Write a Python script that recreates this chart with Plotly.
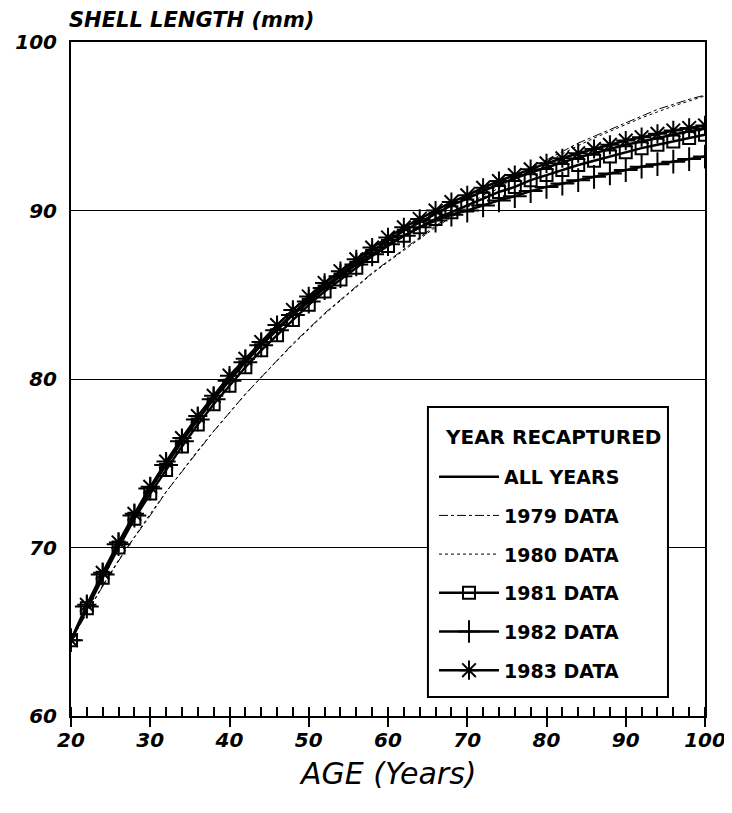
import plotly.graph_objects as go

ages = [20, 22, 24, 26, 28, 30, 32, 34, 36, 38, 40, 42, 44, 46, 48, 50, 52, 54, 56, 58, 60,
        62, 64, 66, 68, 70, 72, 74, 76, 78, 80, 82, 84, 86, 88, 90, 92, 94, 96, 98, 100]

all_years = [64.5, 66.5, 68.4, 70.2, 71.9, 73.5, 74.9, 76.3, 77.6, 78.9, 80.0, 81.1, 82.1, 83.0,
             83.9, 84.75, 85.5, 86.25, 86.95, 87.6, 88.2, 88.8, 89.3, 89.8, 90.3, 90.7, 91.15,
             91.55, 91.9, 92.25, 92.55, 92.85, 93.15, 93.4, 93.65, 93.9, 94.1, 94.3, 94.5, 94.7, 94.85]

data_1979 = [64.5, 66.1, 67.7, 69.2, 70.6, 71.9, 73.3, 74.5, 75.7, 76.9, 78.0, 79.1, 80.1, 81.1,
             82.1, 83.0, 83.9, 84.7, 85.5, 86.3, 87.0, 87.7, 88.4, 89.1, 89.7, 90.3, 90.9, 91.5,
             92.0, 92.5, 93.0, 93.5, 94.0, 94.4, 94.8, 95.2, 95.6, 96.0, 96.3, 96.6, 96.85]

data_1980 = [64.5, 66.15, 67.75, 69.25, 70.65, 72.0, 73.3, 74.55, 75.75, 76.9, 78.0, 79.1, 80.1,
             81.1, 82.05, 82.95, 83.85, 84.65, 85.45, 86.25, 86.95, 87.65, 88.35, 89.0, 89.6,
             90.2, 90.8, 91.35, 91.9, 92.4, 92.9, 93.4, 93.85, 94.3, 94.7, 95.1, 95.5, 95.85,
             96.2, 96.5, 96.8]

data_1981 = [64.5, 66.4, 68.2, 70.0, 71.7, 73.2, 74.6, 76.0, 77.3, 78.5, 79.6, 80.7, 81.7, 82.6,
             83.5, 84.4, 85.2, 85.9, 86.6, 87.3, 87.9, 88.5, 89.0, 89.5, 89.9, 90.3, 90.7, 91.1,
             91.4, 91.8, 92.1, 92.4, 92.7, 92.95, 93.2, 93.45, 93.7, 93.9, 94.1, 94.3, 94.5]

data_1982 = [64.5, 66.5, 68.4, 70.2, 71.9, 73.5, 74.9, 76.3, 77.6, 78.8, 79.9, 81.0, 82.0, 82.9,
             83.8, 84.6, 85.4, 86.1, 86.8, 87.4, 88.0, 88.5, 89.0, 89.4, 89.75, 90.0, 90.3, 90.6,
             90.85, 91.15, 91.4, 91.6, 91.8, 92.0, 92.2, 92.4, 92.6, 92.75, 92.9, 93.05, 93.2]

data_1983 = [64.5, 66.6, 68.5, 70.3, 72.0, 73.6, 75.1, 76.5, 77.8, 79.0, 80.2, 81.2, 82.2, 83.2,
             84.1, 84.9, 85.7, 86.4, 87.1, 87.8, 88.4, 89.0, 89.5, 90.0, 90.5, 90.9, 91.35, 91.75,
             92.1, 92.45, 92.8, 93.1, 93.4, 93.65, 93.9, 94.15, 94.35, 94.55, 94.75, 94.9, 95.05]

x_ticks = [20, 30, 40, 50, 60, 70, 80, 90, 100]
y_ticks = [60, 70, 80, 90, 100]

FONT = "DejaVu Sans"
BLACK = "#000000"

fig = go.Figure()

fig.add_trace(go.Scatter(x=ages, y=data_1979, mode="lines", name="1979 DATA",
                         line=dict(color=BLACK, width=1, dash="dashdot"),
                         legendgroup="g1979", legendrank=2))
fig.add_trace(go.Scatter(x=ages, y=data_1980, mode="lines", name="1980 DATA",
                         line=dict(color=BLACK, width=1, dash="dot"),
                         legendgroup="g1980", legendrank=3))
fig.add_trace(go.Scatter(x=ages, y=data_1981, mode="lines+markers", name="1981 DATA",
                         line=dict(color=BLACK, width=2.5),
                         marker=dict(symbol="square-open", size=12, color=BLACK,
                                     line=dict(width=2, color=BLACK)),
                         legendgroup="g1981", legendrank=4))
fig.add_trace(go.Scatter(x=ages, y=data_1982, mode="lines+markers", name="1982 DATA",
                         line=dict(color=BLACK, width=2.5),
                         marker=dict(symbol="cross-thin-open", size=17, color=BLACK,
                                     line=dict(width=2, color=BLACK)),
                         legendgroup="g1982", legendrank=5))
fig.add_trace(go.Scatter(x=ages, y=data_1983, mode="lines+markers", name="1983 DATA",
                         line=dict(color=BLACK, width=2.5),
                         marker=dict(symbol="asterisk-open", size=16, color=BLACK,
                                     line=dict(width=2, color=BLACK)),
                         legendgroup="g1983", legendrank=6))
fig.add_trace(go.Scatter(x=ages, y=all_years, mode="lines", name="ALL YEARS",
                         line=dict(color=BLACK, width=2.5),
                         legendgroup="gall", legendrank=1))

fig.update_layout(
    width=724, height=805,
    margin=dict(l=63, r=27, t=34, b=97),
    paper_bgcolor="white", plot_bgcolor="white",
    font=dict(family=FONT, color=BLACK),
    xaxis=dict(
        range=[20, 100], tickvals=x_ticks, ticktext=[str(v) for v in x_ticks],
        ticks="outside", ticklen=9, tickwidth=1.5, tickcolor=BLACK,
        minor=dict(ticks="inside", dtick=2, tick0=20, ticklen=9, tickwidth=1.5,
                   tickcolor=BLACK, showgrid=False),
        showline=True, linecolor=BLACK, linewidth=2, mirror=True,
        showgrid=False, zeroline=False, automargin=False,
        tickfont=dict(family=FONT, size=20, weight="bold", style="italic"),
        ticklabelstandoff=-4,
    ),
    yaxis=dict(
        range=[60, 100], tickvals=y_ticks, ticktext=[str(v) for v in y_ticks],
        ticks="", showline=True, linecolor=BLACK, linewidth=2, mirror=True,
        showgrid=True, gridcolor=BLACK, gridwidth=1, zeroline=False, automargin=False,
        tickfont=dict(family=FONT, size=20, weight="bold", style="italic"),
        ticklabelstandoff=8,
    ),
    legend=dict(
        x=0.5726, y=0.383, xanchor="left", yanchor="top",
        bgcolor="rgba(0,0,0,0)", borderwidth=0,
        font=dict(family=FONT, size=19, weight="bold", color=BLACK),
        tracegroupgap=11, itemwidth=60,
    ),
    shapes=[dict(type="rect", xref="paper", yref="paper",
                 x0=0.563, x1=0.9416, y0=0.0282, y1=0.4585,
                 line=dict(color=BLACK, width=2), fillcolor="white", layer="above")],
    annotations=[
        dict(text="YEAR RECAPTURED", xref="paper", yref="paper", x=0.5868, y=0.414,
             xanchor="left", yanchor="middle", showarrow=False,
             font=dict(family=FONT, size=20, weight="bold", color=BLACK)),
        dict(text="SHELL LENGTH (mm)", xref="paper", yref="paper", x=0, y=1,
             xanchor="left", yanchor="bottom", xshift=-4, yshift=8, showarrow=False,
             font=dict(family=FONT, size=21, weight="bold", style="italic", color=BLACK)),
        dict(text="AGE (Years)", xref="paper", yref="paper", x=0.5, y=0,
             xanchor="center", yanchor="top", yshift=-38, showarrow=False,
             font=dict(family=FONT, size=30, style="italic", color=BLACK)),
    ],
)

fig.write_html("out.html")
